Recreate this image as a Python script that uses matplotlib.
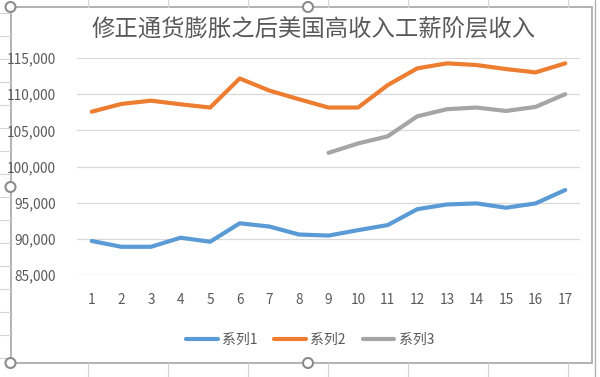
import matplotlib
matplotlib.use("Agg")
import matplotlib.pyplot as plt
from matplotlib.patches import Rectangle, Circle
from matplotlib.ticker import FuncFormatter

plt.rcParams['font.family'] = ['Noto Sans CJK SC', 'DejaVu Sans']

title = "修正通货膨胀之后美国高收入工薪阶层收入"
years = list(range(1, 18))
series1 = [89700, 88900, 88900, 90150, 89600, 92150, 91700, 90600, 90450,
           91200, 91900, 94100, 94750, 94900, 94300, 94900, 96750]
series2 = [107580, 108650, 109100, 108600, 108150, 112170, 110500, 109300, 108150,
           108150, 111250, 113570, 114260, 114030, 113470, 113010, 114260]
years3 = list(range(9, 18))
series3 = [101890, 103190, 104170, 106940, 107920, 108150, 107680, 108240, 110000]
labels = ["系列1", "系列2", "系列3"]
colors = ["#5B9BD5", "#ED7D31", "#A5A5A5"]
text_color = "#595959"

W, H = 600, 377
fig = plt.figure(figsize=(W / 100, H / 100), dpi=100)

# background: spreadsheet cells, chart area, selection handles
bg = fig.add_axes([0, 0, 1, 1], zorder=0)
bg.set_xlim(0, W)
bg.set_ylim(H, 0)
bg.axis("off")
for x in range(88, W, 80):
    bg.plot([x, x], [0, 7], color="#d4d4d4", lw=0.8)
    bg.plot([x, x], [363, H], color="#d4d4d4", lw=0.8)
for y in range(13, H, 23):
    bg.plot([0, 10], [y, y], color="#d4d4d4", lw=0.8)
bg.add_patch(Rectangle((10.5, 7), 581, 356, facecolor="white",
                       edgecolor="#a6a6a6", lw=1.2))
bg.plot([595, 595], [0, H], color="#b0b0b0", lw=1.0)
for cx, cy in [(10.5, 7), (308, 7), (10.5, 187), (10.5, 363), (308, 363)]:
    bg.add_patch(Circle((cx, cy), 5, facecolor="white", edgecolor="#8c8c8c",
                        lw=1.5, zorder=5))

# plot area
ax = fig.add_axes([77 / W, 1 - 275 / H, (580 - 77) / W, (275 - 58) / H], zorder=1)
ax.set_facecolor("none")
ax.plot(years, series1, color=colors[0], lw=3, label=labels[0], solid_capstyle="round")
ax.plot(years, series2, color=colors[1], lw=3, label=labels[1], solid_capstyle="round")
ax.plot(years3, series3, color=colors[2], lw=3, label=labels[2], solid_capstyle="round")

ax.set_xlim(0.5, 17.5)
ax.set_ylim(85000, 115000)
ax.set_yticks(range(85000, 115001, 5000))
ax.set_xticks(years)
ax.yaxis.set_major_formatter(FuncFormatter(lambda v, p: f"{int(v):,}"))
ax.grid(axis="y", color="#d9d9d9", lw=0.9)
ax.set_axisbelow(True)
for s in ax.spines.values():
    s.set_visible(False)
ax.tick_params(length=0, labelsize=9.8, labelcolor=text_color)
ax.tick_params(axis="y", pad=15)
ax.tick_params(axis="x", pad=13)

fig.text(314 / W, 1 - 30 / H, title, ha="center", va="center",
         fontsize=16.8, color=text_color)

fig.legend(loc="center", bbox_to_anchor=(310 / W, 1 - 340 / H), ncol=3,
           frameon=False, fontsize=10, labelcolor=text_color,
           handlelength=2.3, handletextpad=0.3, columnspacing=1.2)

fig.savefig("out.png", dpi=100)
